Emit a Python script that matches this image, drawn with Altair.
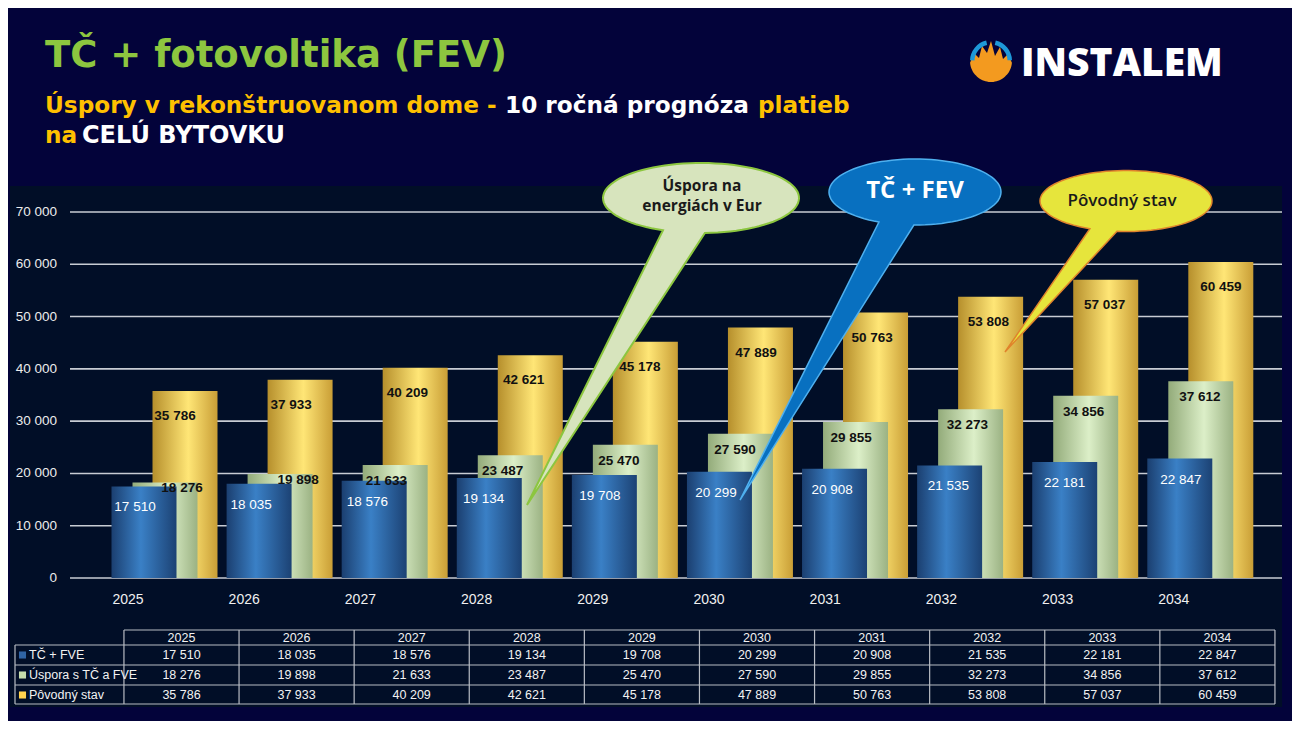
import altair as alt
import pandas as pd
import numpy as np

# ---------------- data ----------------
years = [2025, 2026, 2027, 2028, 2029, 2030, 2031, 2032, 2033, 2034]
tc_fve = [17510, 18035, 18576, 19134, 19708, 20299, 20908, 21535, 22181, 22847]
uspora = [18276, 19898, 21633, 23487, 25470, 27590, 29855, 32273, 34856, 37612]
povodny = [35786, 37933, 40209, 42621, 45178, 47889, 50763, 53808, 57037, 60459]
series_names = ["TČ + FVE", "Úspora s TČ a FVE", "Pôvodný stav"]
y_ticks = [0, 10000, 20000, 30000, 40000, 50000, 60000, 70000]

# ---------------- layout helpers ----------------
W, H = 1284, 713
O = 8


def px(v):
    return v - O


NARROW = "Liberation Sans Narrow, Arial Narrow, Liberation Sans, sans-serif"
HEAD = "Open Sans, Liberation Sans, sans-serif"
WIDE = "DejaVu Sans, Open Sans, sans-serif"
BG = "#03033A"
PANEL = "#010E27"

one = pd.DataFrame({"a": [0]})
bars = pd.DataFrame({"year": years, "tc": tc_fve, "usp": uspora, "pov": povodny})

xs = alt.Scale(domain=[2025, 2034], range=[px(128), px(1173.8)], nice=False, zero=False)
ys = alt.Scale(domain=[0, 70000], range=[px(578), px(212)], nice=False)
xb = alt.X("year:Q", scale=xs, axis=None)
FMT = "replace(format(datum.{f}, ',d'), ',', ' ')"


def grad(c0, c1, c2, mid=0.5):
    return alt.LinearGradient(
        gradient="linear", x1=0, x2=1, y1=0, y2=0,
        stops=[alt.GradientStop(offset=0, color=c0),
               alt.GradientStop(offset=mid, color=c1),
               alt.GradientStop(offset=1, color=c2)])


layers = []

# panel background
layers.append(alt.Chart(one).mark_rect(color=PANEL).encode(
    x=alt.value(px(10)), x2=alt.value(px(1282)), y=alt.value(px(186)), y2=alt.value(px(707))))

# gridlines
grid = pd.DataFrame({"v": y_ticks})
layers.append(alt.Chart(grid).mark_rule(color="#C8CCD4", strokeWidth=1.6).encode(
    x=alt.value(px(70)), x2=alt.value(px(1282)), y=alt.Y("v:Q", scale=ys, axis=None)))
layers.append(alt.Chart(grid).transform_calculate(lab=FMT.format(f="v")).mark_text(
    align="right", baseline="middle", font=NARROW, fontSize=13.5, color="#ECECEC").encode(
    x=alt.value(px(57)), y=alt.Y("v:Q", scale=ys, axis=None), text="lab:N"))

# bars (back to front)
layers.append(alt.Chart(bars).mark_bar(width=65, xOffset=52,
                                       fill=grad("#B68F2C", "#FFE676", "#C99E36", 0.55)).encode(
    x=xb, y=alt.Y("pov:Q", scale=ys, axis=None)))
layers.append(alt.Chart(bars).mark_bar(width=65, xOffset=32,
                                       fill=grad("#93AB7A", "#DCEFC8", "#9BB283", 0.55)).encode(
    x=xb, y=alt.Y("usp:Q", scale=ys, axis=None)))
layers.append(alt.Chart(bars).mark_bar(width=65, xOffset=11,
                                       fill=grad("#1B3F70", "#3A80C6", "#1C4274", 0.45)).encode(
    x=xb, y=alt.Y("tc:Q", scale=ys, axis=None)))

# value labels
LBL = dict(font=NARROW, fontSize=13.5)
layers.append(alt.Chart(bars).transform_calculate(lab=FMT.format(f="pov")).mark_text(
    fontWeight="bold", color="#111111", dx=47, dy=25, **LBL).encode(
    x=xb, y=alt.Y("pov:Q", scale=ys, axis=None), text="lab:N"))
# green labels: shifted right where the blue bar nearly reaches the green top
layers.append(alt.Chart(bars).transform_filter("datum.usp - datum.tc >= 2500").transform_calculate(
    lab=FMT.format(f="usp")).mark_text(
    fontWeight="bold", color="#111111", dx=26, dy=16, **LBL).encode(
    x=xb, y=alt.Y("usp:Q", scale=ys, axis=None), text="lab:N"))
layers.append(alt.Chart(bars).transform_filter("datum.usp - datum.tc < 2500").transform_calculate(
    lab=FMT.format(f="usp")).mark_text(
    fontWeight="bold", color="#111111", dx=54, dy=6, **LBL).encode(
    x=xb, y=alt.Y("usp:Q", scale=ys, axis=None), text="lab:N"))
layers.append(alt.Chart(bars).transform_calculate(lab=FMT.format(f="tc")).mark_text(
    color="#FFFFFF", dx=7, dy=21, **LBL).encode(
    x=xb, y=alt.Y("tc:Q", scale=ys, axis=None), text="lab:N"))

# year labels
layers.append(alt.Chart(bars).mark_text(font=NARROW, fontSize=14, color="#F0F0F0",
                                        baseline="middle").encode(
    x=xb, y=alt.value(px(600)), text=alt.Text("year:Q", format="d")))


# ---------------- callouts ----------------
def callout_path(rx, ry, t_right, t_left, tip):
    ts = np.radians(np.linspace(t_left, t_right + 360, 90))
    pts = [f"{rx * np.cos(t):.1f},{ry * np.sin(t):.1f}" for t in ts]
    return "M" + " L".join(pts) + f" L{tip[0]:.1f},{tip[1]:.1f} Z"


callouts = [
    # cx, cy, rx, ry, t_right, t_left, tip, fill, stroke, sw
    (701, 198, 98, 35, 87.7, 112.8, (527, 505), "#D7E4BD", "#8CC63F", 2.0),
    (915, 192, 86, 33, 90.7, 114.8, (740, 500), "#0870C0", "#4FB0EE", 1.5),
    (1126, 201, 86, 30.5, 96.0, 114.8, (1005, 352), "#E6E53C", "#E0832C", 1.5),
]
for cx, cy, rx, ry, tr, tl, tip, fc, sc, sw in callouts:
    path = callout_path(rx, ry, tr, tl, (tip[0] - cx, tip[1] - cy))
    layers.append(alt.Chart(one).mark_point(shape=path, size=4, filled=True, fill=fc,
                                            stroke=sc, strokeWidth=sw, opacity=1,
                                            fillOpacity=1, strokeOpacity=1).encode(
        x=alt.value(px(cx)), y=alt.value(px(cy))))

layers.append(alt.Chart(one).mark_text(text="Úspora na", font=HEAD, fontSize=15.5,
                                       fontWeight="bold", color="#1A1A1A").encode(
    x=alt.value(px(702)), y=alt.value(px(186))))
layers.append(alt.Chart(one).mark_text(text="energiách v Eur", font=HEAD, fontSize=15.5,
                                       fontWeight="bold", color="#1A1A1A").encode(
    x=alt.value(px(702)), y=alt.value(px(206))))
layers.append(alt.Chart(one).mark_text(text="TČ + FEV", font=HEAD, fontSize=24,
                                       fontWeight="bold", color="#FFFFFF").encode(
    x=alt.value(px(915)), y=alt.value(px(191))))
layers.append(alt.Chart(one).mark_text(text="Pôvodný stav", font=HEAD, fontSize=17,
                                       fontWeight=600, color="#1A1A1A").encode(
    x=alt.value(px(1122)), y=alt.value(px(201))))

# ---------------- table ----------------
ts_ = alt.Scale(domain=[2025, 2034], range=[px(181.5), px(1217.4)], nice=False, zero=False)
trow = alt.Scale(domain=[1, 3], range=[px(655), px(695)], nice=False, zero=False)
tab = pd.DataFrame({
    "year": years * 3,
    "row": [1] * 10 + [2] * 10 + [3] * 10,
    "v": tc_fve + uspora + povodny,
})
bounds = pd.DataFrame({"b": [y - 0.5 for y in years] + [years[-1] + 0.5]})
legend_df = pd.DataFrame({"row": [1, 2, 3], "name": series_names})

for yy, x0 in [(630, 124), (645, 15), (665, 15), (685, 15), (704, 15)]:
    layers.append(alt.Chart(one).mark_rule(color="#B8BCC4", strokeWidth=1.2).encode(
        x=alt.value(px(x0)), x2=alt.value(px(1275)), y=alt.value(px(yy))))
layers.append(alt.Chart(one).mark_rule(color="#B8BCC4", strokeWidth=1.2).encode(
    x=alt.value(px(15)), y=alt.value(px(645)), y2=alt.value(px(704))))
layers.append(alt.Chart(bounds).mark_rule(color="#B8BCC4", strokeWidth=1.2).encode(
    x=alt.X("b:Q", scale=ts_, axis=None), y=alt.value(px(630)), y2=alt.value(px(704))))

layers.append(alt.Chart(bars).mark_text(font=NARROW, fontSize=12.5, color="#F2F2F2",
                                        baseline="middle").encode(
    x=alt.X("year:Q", scale=ts_, axis=None), y=alt.value(px(637.5)),
    text=alt.Text("year:Q", format="d")))
layers.append(alt.Chart(tab).transform_calculate(lab=FMT.format(f="v")).mark_text(
    font=NARROW, fontSize=12.5, color="#F2F2F2", baseline="middle").encode(
    x=alt.X("year:Q", scale=ts_, axis=None), y=alt.Y("row:Q", scale=trow, axis=None),
    text="lab:N"))
layers.append(alt.Chart(legend_df).mark_square(size=50, opacity=1).encode(
    x=alt.value(px(22.5)), y=alt.Y("row:Q", scale=trow, axis=None),
    color=alt.Color("name:N", scale=alt.Scale(domain=series_names,
                                              range=["#2F64A4", "#C6DDAB", "#FFD34E"]),
                    legend=None)))
layers.append(alt.Chart(legend_df).mark_text(font=NARROW, fontSize=12.5, color="#F2F2F2",
                                             align="left", baseline="middle").encode(
    x=alt.value(px(29)), y=alt.Y("row:Q", scale=trow, axis=None), text="name:N"))


# ---------------- titles ----------------
def txt(s, x, y, size, color, weight="bold", font=WIDE):
    return alt.Chart(one).mark_text(text=s, font=font, fontSize=size, fontWeight=weight,
                                    color=color, align="left", baseline="alphabetic").encode(
        x=alt.value(px(x)), y=alt.value(px(y)))


GREEN_T = "#8DC63F"
YEL = "#FFC000"
layers.append(txt("TČ + fotovoltika (FEV)", 45, 67, 37, GREEN_T))
layers.append(txt("Úspory v rekonštruovanom dome", 45, 113, 23.2, YEL))
layers.append(txt("-", 487, 113, 23.2, YEL))
layers.append(txt("10 ročná prognóza", 505, 113, 23.2, "#FFFFFF"))
layers.append(txt("platieb", 758, 113, 23.2, YEL))
layers.append(txt("na", 45, 143, 23.2, YEL))
layers.append(txt("CELÚ BYTOVKU", 82, 143, 24, "#FFFFFF"))

# logo
layers.append(txt("INSTALEM", 1021, 76, 39, "#FFFFFF", 800, HEAD))
flame = [(21, 2), (17, -7), (12, -2), (9, -14), (4, -5), (0, -20), (-4, -8),
         (-9, -15), (-12, -3), (-17, -8), (-21, 2)]
arc = [(21 * np.cos(a), 21 * np.sin(a)) for a in np.radians(np.linspace(175, 5, 40))]
flame_path = "M" + " L".join(f"{x:.1f},{y:.1f}" for x, y in flame + arc) + " Z"
layers.append(alt.Chart(one).mark_point(shape=flame_path, size=4, filled=True,
                                        fill="#F39A1F", strokeWidth=0, opacity=1).encode(
    x=alt.value(px(991)), y=alt.value(px(61))))
for t0, t1 in [(4.75, 6.05), (0.23, 1.53)]:
    layers.append(alt.Chart(one).mark_arc(theta=t0, theta2=t1, radius=21, radius2=16.5,
                                          color="#1E98D8").encode(
        x=alt.value(px(991)), y=alt.value(px(61))))

chart = alt.layer(*layers).resolve_scale(x="independent", y="independent").properties(
    width=W, height=H, background=BG, padding=0,
    autosize=alt.AutoSizeParams(type="none"),
).configure_view(stroke=None)

chart.save("out.html", embed_options={"renderer": "svg", "actions": False})
